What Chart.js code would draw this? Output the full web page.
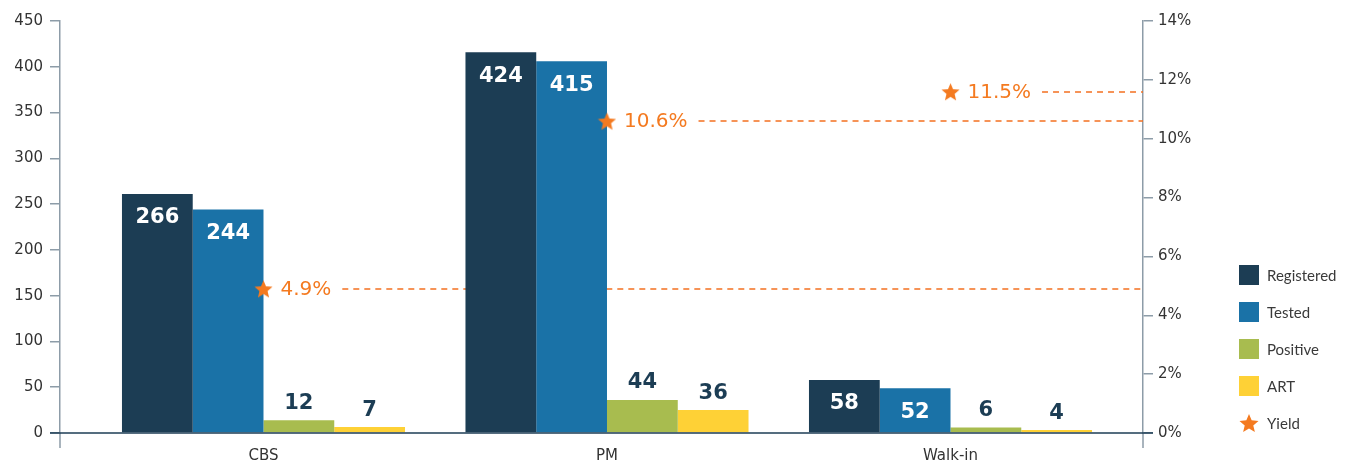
<!DOCTYPE html>
<html>
<head>
<meta charset="utf-8">
<script src="https://cdn.jsdelivr.net/npm/chart.js@4.4.1/dist/chart.umd.min.js"></script>
<style>
  html, body { margin: 0; padding: 0; background: #fff; }
  #wrap { position: relative; width: 1355px; height: 465px; }
  #legend { position: absolute; left: 1239px; top: 265px; font-family: Lato, sans-serif; font-size: 15px; color: #3a3a3a; }
  .item { display: flex; align-items: center; height: 20px; margin-bottom: 17px; }
  .box { width: 20px; height: 20px; margin-right: 8px; }
  .item img { margin-right: 8px; }
</style>
</head>
<body>
<div id="wrap">
  <canvas id="regionChart" width="1355" height="465"></canvas>
  <div id="legend"></div>
</div>
<script>
const categories = ['CBS', 'PM', 'Walk-in'];

// bar heights as drawn, and the numbers printed on them
const registered = [261, 416, 58];
const tested = [244, 406, 49];
const positive = [14, 36, 6];
const art = [6.5, 25, 3.2];
const registeredLabels = ['266', '424', '58'];
const testedLabels = ['244', '415', '52'];
const positiveLabels = ['12', '44', '6'];
const artLabels = ['7', '36', '4'];

// yield (%) on the right axis
const yieldValues = [4.9, 10.6, 11.6];
const yieldLabels = ['4.9%', '10.6%', '11.5%'];

const leftTicks = [0, 50, 100, 150, 200, 250, 300, 350, 400, 450];
const rightTicks = [0, 2, 4, 6, 8, 10, 12, 14];

const seriesNames = ['Registered', 'Tested', 'Positive', 'ART'];
const seriesColors = ['#1c3d54', '#1a72a7', '#a8bc4f', '#fed136'];
const yieldColor = '#f47a20';
const navy = '#1c3d54';
const axisGrey = '#8d9ca8';

function makeStar(size, color) {
    const c = document.createElement('canvas');
    c.width = size; c.height = size;
    const g = c.getContext('2d');
    const cx = size / 2, cy = size / 2 + size * 0.05, R = size / 2, r = R * 0.45;
    g.beginPath();
    for (let i = 0; i < 10; i++) {
        const a = -Math.PI / 2 + i * Math.PI / 5;
        const rad = i % 2 ? r : R;
        g.lineTo(cx + rad * Math.cos(a), cy + rad * Math.sin(a));
    }
    g.closePath();
    g.fillStyle = color;
    g.fill();
    return c;
}
const star = makeStar(19, yieldColor);

const toPoints = (arr) => arr.map((v, i) => ({x: i, y: v}));
const barSets = [registered, tested, positive, art];
const labelSets = [registeredLabels, testedLabels, positiveLabels, artLabels];

//Rebuild chart data
const datasets = barSets.map((values, i) => ({
    type: 'bar',
    label: seriesNames[i],
    data: toPoints(values),
    backgroundColor: seriesColors[i],
    yAxisID: 'y',
    order: 1,
    categoryPercentage: 0.824,
    barPercentage: 1
}));
datasets.push({
    type: 'scatter',
    label: 'Yield',
    data: toPoints(yieldValues),
    yAxisID: 'y1',
    order: 0,
    pointStyle: star,
    backgroundColor: yieldColor
});

const yieldFont = '20px "DejaVu Sans"';

const yieldPlugin = {
    id: 'yieldLabels',
    beforeDatasetsDraw(chart) {
        const meta = chart.getDatasetMeta(4);
        const ctx = chart.ctx;
        ctx.save();
        ctx.font = yieldFont;
        ctx.strokeStyle = '#f37021';
        ctx.lineWidth = 1.5;
        ctx.setLineDash([6, 5]);
        meta.data.forEach((pt, i) => {
            const w = ctx.measureText(yieldLabels[i]).width;
            const y = Math.round(pt.y);
            ctx.beginPath();
            ctx.moveTo(pt.x + 17 + w + 11, y);
            ctx.lineTo(chart.chartArea.right, y);
            ctx.stroke();
        });
        ctx.restore();
    },
    afterDatasetsDraw(chart) {
        const ctx = chart.ctx;
        ctx.save();
        // numbers on the bars
        ctx.font = 'bold 21px "DejaVu Sans"';
        ctx.textAlign = 'center';
        ctx.textBaseline = 'middle';
        for (let d = 0; d < 4; d++) {
            chart.getDatasetMeta(d).data.forEach((bar, i) => {
                if (d < 2) {
                    ctx.fillStyle = '#ffffff';
                    ctx.fillText(labelSets[d][i], bar.x, bar.y + 24);
                } else {
                    ctx.fillStyle = navy;
                    ctx.fillText(labelSets[d][i], bar.x, bar.y - 17);
                }
            });
        }
        // yield text
        ctx.font = yieldFont;
        ctx.textAlign = 'left';
        ctx.fillStyle = yieldColor;
        chart.getDatasetMeta(4).data.forEach((pt, i) => {
            ctx.fillText(yieldLabels[i], pt.x + 17, pt.y + 1);
        });
        ctx.restore();
    },
    afterDraw(chart) {
        const {left, right, bottom} = chart.chartArea;
        const ctx = chart.ctx;
        ctx.save();
        ctx.strokeStyle = axisGrey;
        ctx.lineWidth = 1.5;
        ctx.beginPath();
        ctx.moveTo(left, bottom); ctx.lineTo(left, bottom + 15);
        ctx.moveTo(right, bottom); ctx.lineTo(right, bottom + 15);
        ctx.stroke();
        ctx.strokeStyle = navy;
        ctx.lineWidth = 1.5;
        ctx.beginPath();
        ctx.moveTo(left - 10, bottom); ctx.lineTo(right + 10, bottom);
        ctx.stroke();
        ctx.restore();
    }
};

const tickFont = {family: '"DejaVu Sans"', size: 15};

const chart = new Chart(document.getElementById('regionChart'), {
    data: {datasets: datasets},
    options: {
        responsive: false,
        animation: false,
        layout: {padding: {top: 21, right: 152, left: 0, bottom: 0}},
        plugins: {
            legend: {display: false},
            tooltip: {enabled: false}
        },
        scales: {
            x: {
                type: 'linear',
                offset: false,
                min: -0.5924,
                max: 2.5604,
                afterBuildTicks: (scale) => { scale.ticks = categories.map((c, i) => ({value: i})); },
                afterFit: (scale) => { scale.height = 32; },
                grid: {display: false, drawTicks: false, offset: false},
                border: {display: false},
                ticks: {
                    callback: (v) => categories[v],
                    color: '#333',
                    font: tickFont,
                    padding: 14,
                    maxRotation: 0
                }
            },
            y: {
                position: 'left',
                min: 0,
                max: 450,
                afterBuildTicks: (scale) => { scale.ticks = leftTicks.map(v => ({value: v})); },
                afterFit: (scale) => { scale.width = 60; },
                grid: {drawOnChartArea: false, drawTicks: true, tickLength: 10, tickColor: axisGrey, lineWidth: 1.5},
                border: {color: axisGrey, width: 1.5},
                ticks: {color: '#333', font: tickFont, padding: 7}
            },
            y1: {
                position: 'right',
                min: 0,
                max: 14,
                afterBuildTicks: (scale) => { scale.ticks = rightTicks.map(v => ({value: v})); },
                afterFit: (scale) => { scale.width = 60; },
                grid: {drawOnChartArea: false, drawTicks: true, tickLength: 10, tickColor: axisGrey, lineWidth: 1.5},
                border: {color: axisGrey, width: 1.5},
                ticks: {color: '#333', font: tickFont, padding: 5, callback: (v) => v + '%'}
            }
        }
    },
    plugins: [yieldPlugin]
});

// legend
const legend = document.getElementById('legend');
seriesNames.forEach((name, i) => {
    const item = document.createElement('div');
    item.className = 'item';
    item.innerHTML = '<span class="box" style="background:' + seriesColors[i] + '"></span><span>' + name + '</span>';
    legend.appendChild(item);
});
const yItem = document.createElement('div');
yItem.className = 'item';
const img = document.createElement('img');
img.src = makeStar(20, yieldColor).toDataURL();
img.width = 20; img.height = 20;
yItem.appendChild(img);
const yText = document.createElement('span');
yText.textContent = 'Yield';
yItem.appendChild(yText);
legend.appendChild(yItem);
</script>
</body>
</html>
